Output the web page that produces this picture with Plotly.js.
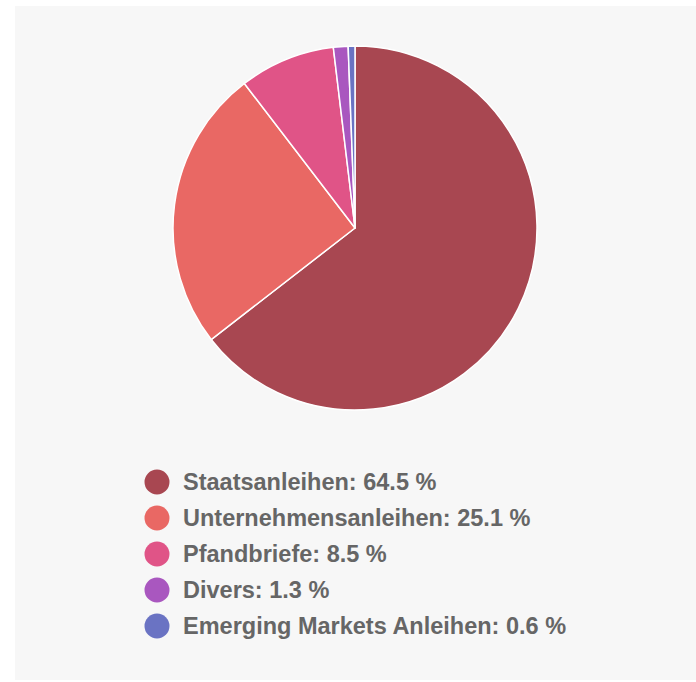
<!DOCTYPE html>
<html><head><meta charset="utf-8">
<script src="https://cdn.plot.ly/plotly-3.0.1.min.js"></script>
<style>
html,body{margin:0;padding:0;background:#fff;width:696px;height:682px;overflow:hidden}
#chart{position:absolute;left:15px;top:6px;width:681px;height:674px}
</style></head><body>
<div id="chart"></div>
<script>
const categories = ["Staatsanleihen","Unternehmensanleihen","Pfandbriefe","Divers","Emerging Markets Anleihen"];
const values = [64.5, 25.1, 8.5, 1.3, 0.6];
const colors = ["#a84751","#e96864","#e05487","#a957bf","#6a73c3"];

const W = 681, H = 674;
const px = x => x / W;
const py = y => 1 - y / H;

// pie placement (pixels inside the chart div)
const cx = 340, cy = 222, r = 182;

const shapes = [], annotations = [];
const legendX = 142, legendY0 = 476, legendStep = 36, dotR = 12.5, textX = 166;
categories.forEach((c, i) => {
  const y = legendY0 + i * legendStep;
  shapes.push({type:"circle", xref:"paper", yref:"paper",
    x0:px(legendX-dotR), x1:px(legendX+dotR), y0:py(y+dotR), y1:py(y-dotR),
    fillcolor:colors[i], line:{width:0}});
  annotations.push({xref:"paper", yref:"paper", x:px(textX), y:py(y),
    xanchor:"left", yanchor:"middle", showarrow:false,
    text: c + ": " + values[i].toFixed(1) + " %",
    font:{family:"Liberation Sans, Arial, sans-serif", size:23.5, color:"#666666", weight:700}});
});

Plotly.newPlot("chart", [{
  type:"pie", labels:categories, values:values, sort:false, direction:"clockwise", rotation:0,
  marker:{colors:colors, line:{color:"#ffffff", width:1.5}},
  textinfo:"none", hoverinfo:"label+percent", showlegend:false,
  domain:{x:[px(cx-r), px(cx+r)], y:[py(cy+r), py(cy-r)]}
}], {
  width:W, height:H, margin:{l:0,r:0,t:0,b:0},
  paper_bgcolor:"#f7f7f7", plot_bgcolor:"#f7f7f7",
  shapes:shapes, annotations:annotations, showlegend:false
}, {displayModeBar:false, staticPlot:true});
</script></body></html>
